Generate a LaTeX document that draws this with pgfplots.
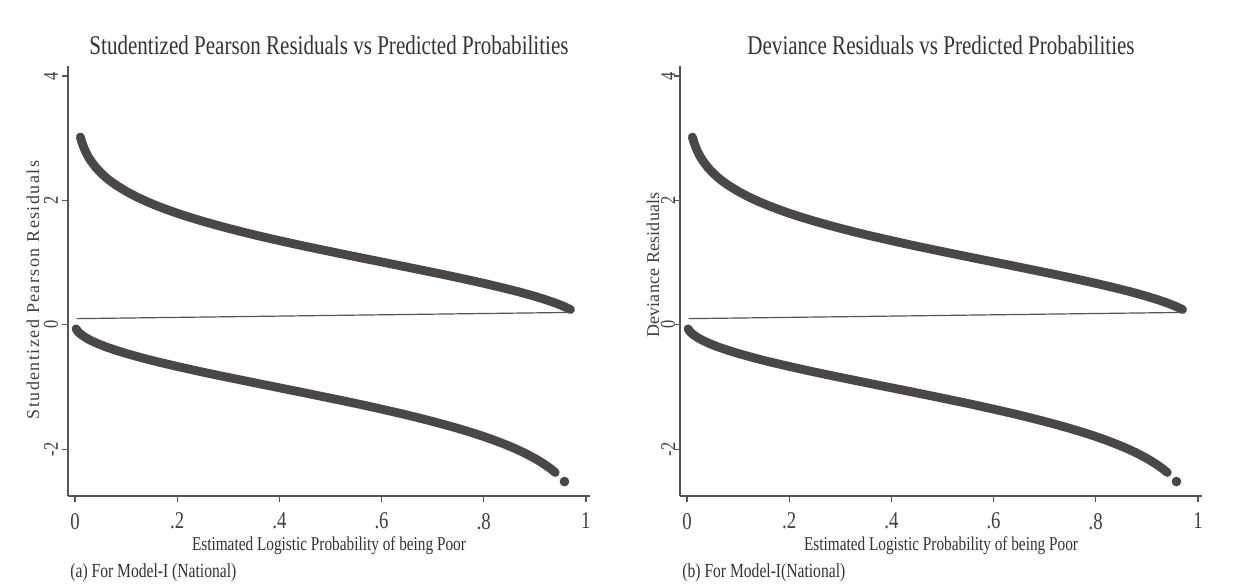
\documentclass[border=0pt]{standalone}
\usepackage{graphicx}
\usepackage{fontspec}
\setmainfont{Liberation Serif}
\newfontfamily\cond[FakeStretch=0.78]{Liberation Serif}
\newfontfamily\spaced[LetterSpace=8]{Liberation Serif}
\newfontfamily\lightspaced[LetterSpace=1]{Liberation Serif}
\usepackage{pgfplots}
\usepackage{pgfplotstable}
\pgfplotsset{compat=1.18}
\definecolor{band}{RGB}{75,70,74}
\definecolor{axgray}{RGB}{85,85,85}

\pgfplotstableread{
p r
0.0105 3.019
0.012 2.974
0.015 2.898
0.020 2.797
0.025 2.716
0.030 2.648
0.040 2.537
0.050 2.448
0.060 2.372
0.070 2.306
0.080 2.248
0.100 2.146
0.120 2.059
0.140 1.983
0.160 1.914
0.180 1.852
0.200 1.794
0.220 1.740
0.250 1.665
0.280 1.596
0.300 1.552
0.330 1.489
0.360 1.429
0.400 1.354
0.440 1.281
0.480 1.212
0.520 1.144
0.560 1.077
0.600 1.011
0.640 0.945
0.680 0.878
0.720 0.811
0.760 0.741
0.800 0.668
0.840 0.590
0.870 0.528
0.900 0.459
0.920 0.408
0.940 0.352
0.955 0.303
0.970 0.247
}\upperdata

\pgfplotstableread{
p r
0.002 -0.063
0.005 -0.100
0.010 -0.142
0.020 -0.201
0.030 -0.247
0.045 -0.303
0.060 -0.352
0.080 -0.408
0.100 -0.459
0.130 -0.528
0.160 -0.591
0.200 -0.668
0.240 -0.741
0.280 -0.811
0.320 -0.878
0.360 -0.945
0.400 -1.011
0.440 -1.077
0.480 -1.144
0.520 -1.212
0.560 -1.281
0.600 -1.354
0.640 -1.429
0.670 -1.489
0.700 -1.552
0.720 -1.596
0.750 -1.665
0.780 -1.740
0.800 -1.794
0.820 -1.852
0.840 -1.915
0.860 -1.983
0.880 -2.059
0.900 -2.146
0.910 -2.195
0.920 -2.248
0.930 -2.306
0.940 -2.372
}\lowerdata

\pgfplotstableread{
p r
0.958 -2.518
}\lonelydata

\pgfplotstableread{
p r
0.003 0.10
0.970 0.20
}\joindata

\newcommand{\rlab}[1]{\rotatebox{90}{#1}}
\tikzset{ylab/.style={anchor=center, inner sep=0pt,
  font=\cond\fontsize{10.5}{12}\selectfont, text=black!75}}

\pgfplotsset{
  resid/.style={
    anchor=south west,
    scale only axis,
    width=261pt, height=215pt,
    xmin=-0.0137, xmax=1.008,
    ymin=-2.75, ymax=4.16,
    axis lines=left,
    axis line style={-, axgray, line width=0.7pt},
    tick style={axgray, line width=0.6pt},
    tick align=outside,
    major tick length=3pt,
    xtick={0,0.2,0.4,0.6,0.8,1},
    xticklabels={0,.2,.4,.6,.8,1},
    ytick={-2,0,2,4},
    yticklabels={},
    ticklabel style={font=\cond\fontsize{12}{13}\selectfont, text=black!75},
    xticklabel style={yshift=-2pt},
    clip=false,
    title style={at={(0.5,1)}, anchor=base, yshift=-0.5pt,
      font=\cond\fontsize{13.5}{15}\selectfont, text=black!80},
    xlabel style={at={(axis description cs:0.5,0)}, anchor=base, yshift=-27pt,
      font=\cond\fontsize{9.8}{11}\selectfont, text=black!80},
    xlabel={Estimated Logistic Probability of being Poor},
  }
}

\begin{document}
\begin{tikzpicture}
\path[use as bounding box] (0,0) rectangle (623pt,292pt);
\fill[white] (0,0) rectangle (623pt,292pt);

\begin{axis}[resid, name=L, at={(34pt,44pt)},
  title={Studentized Pearson Residuals vs Predicted Probabilities},
  ylabel={Studentized Pearson Residuals},
  ylabel style={at={(axis description cs:-0.067,0.479)}, anchor=center,
    font=\spaced\fontsize{9}{11}\selectfont, text=black!75}]
\addplot[band, line width=4.4pt, line cap=round, line join=round] table[x=p,y=r] {\upperdata};
\addplot[band, line width=4.4pt, line cap=round, line join=round] table[x=p,y=r] {\lowerdata};
\addplot[only marks, mark=*, mark size=2.2pt, band] table[x=p,y=r] {\lonelydata};
\addplot[axgray, line width=0.6pt] table[x=p,y=r] {\joindata};
\node[ylab] at (axis cs:-0.047,-2) {\rlab{-2}};
\node[ylab] at (axis cs:-0.047,0) {\rlab{0}};
\node[ylab] at (axis cs:-0.047,2) {\rlab{2}};
\node[ylab] at (axis cs:-0.047,4) {\rlab{4}};
\end{axis}
\node[anchor=base west, inner sep=0pt, font=\cond\fontsize{10}{11}\selectfont, text=black!80] at ([xshift=1pt,yshift=-40.5pt]L.south west) {(a) For Model-I (National)};

\begin{axis}[resid, name=R, at={(340pt,44pt)},
  title={Deviance Residuals vs Predicted Probabilities},
  ylabel={Deviance Residuals},
  ylabel style={at={(axis description cs:-0.052,0.537)}, anchor=center,
    font=\lightspaced\fontsize{9}{11}\selectfont, text=black!75}]
\addplot[band, line width=4.4pt, line cap=round, line join=round] table[x=p,y=r] {\upperdata};
\addplot[band, line width=4.4pt, line cap=round, line join=round] table[x=p,y=r] {\lowerdata};
\addplot[only marks, mark=*, mark size=2.2pt, band] table[x=p,y=r] {\lonelydata};
\addplot[axgray, line width=0.6pt] table[x=p,y=r] {\joindata};
\node[ylab] at (axis cs:-0.037,-2) {\rlab{-2}};
\node[ylab] at (axis cs:-0.037,0) {\rlab{0}};
\node[ylab] at (axis cs:-0.037,2) {\rlab{2}};
\node[ylab] at (axis cs:-0.037,4) {\rlab{4}};
\end{axis}
\node[anchor=base west, inner sep=0pt, font=\cond\fontsize{10}{11}\selectfont, text=black!80] at ([xshift=1pt,yshift=-40.5pt]R.south west) {(b) For Model-I(National)};
\end{tikzpicture}
\end{document}
